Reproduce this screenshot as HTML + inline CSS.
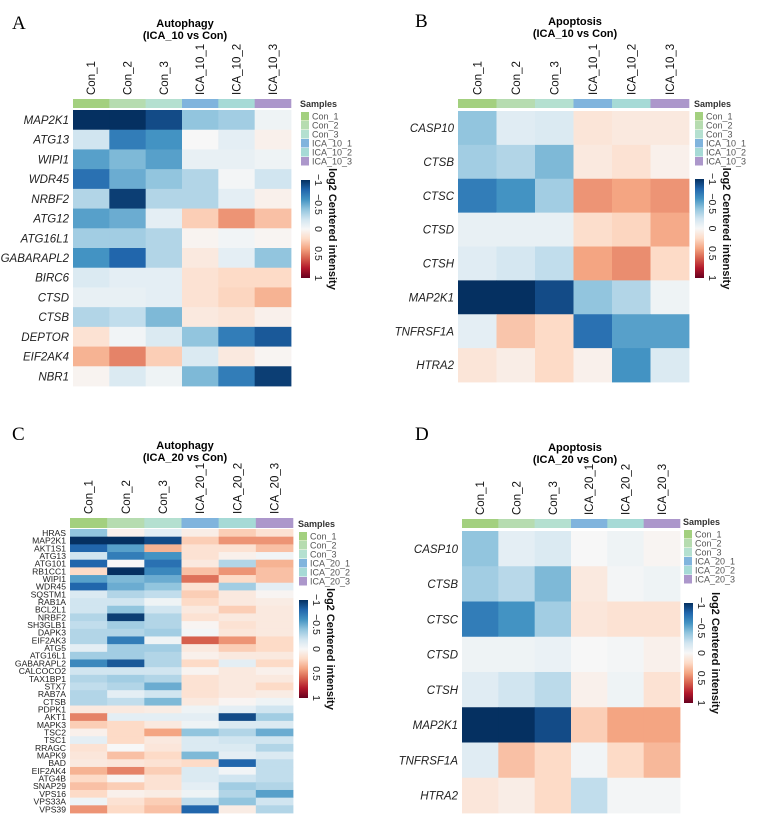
<!DOCTYPE html>
<html><head><meta charset="utf-8"><style>
body{margin:0;background:#fff}
svg{display:block;font-family:"Liberation Sans",sans-serif}
</style></head><body>
<svg id="fig" width="762" height="833" viewBox="0 0 762 833" xmlns="http://www.w3.org/2000/svg">
<defs>
<linearGradient id="cbg" x1="0" y1="0" x2="0" y2="1">
<stop offset="0" stop-color="#053061"/><stop offset="0.1" stop-color="#2166ac"/><stop offset="0.2" stop-color="#4393c3"/><stop offset="0.3" stop-color="#92c5de"/><stop offset="0.4" stop-color="#d1e5f0"/><stop offset="0.5" stop-color="#f7f7f7"/><stop offset="0.6" stop-color="#fddbc7"/><stop offset="0.7" stop-color="#f4a582"/><stop offset="0.8" stop-color="#d6604d"/><stop offset="0.9" stop-color="#b2182b"/><stop offset="1" stop-color="#67001f"/>
</linearGradient>
</defs>
</svg>
<script>
const colsA = ["Con_1","Con_2","Con_3","ICA_10_1","ICA_10_2","ICA_10_3"];
const colsC = ["Con_1","Con_2","Con_3","ICA_20_1","ICA_20_2","ICA_20_3"];
const sampleColors = ["#a3d07f","#b6dcb0","#b4e0d0","#80b4dd","#a6dad6","#ac97cb"];
const colorTicks = [-1,-0.5,0,0.5,1];
const colorTickLabels = ["\u22121","\u22120.5","0","0.5","1"];

const rowsA = ["MAP2K1","ATG13","WIPI1","WDR45","NRBF2","ATG12","ATG16L1","GABARAPL2","BIRC6","CTSD","CTSB","DEPTOR","EIF2AK4","NBR1"];
const valsA = [
[-1,-1,-0.9,-0.4,-0.35,-0.05],[-0.2,-0.7,-0.6,0,-0.1,0.05],[-0.55,-0.45,-0.55,-0.08,-0.08,-0.05],
[-0.75,-0.5,-0.4,-0.3,-0.02,-0.2],[-0.3,-0.95,-0.3,-0.3,-0.1,0.05],[-0.55,-0.5,-0.1,0.25,0.45,0.3],
[-0.35,-0.35,-0.3,0.03,-0.03,0.02],[-0.6,-0.8,-0.3,0.1,-0.1,-0.4],[-0.15,-0.1,-0.1,0.15,0.2,0.2],
[-0.08,-0.08,-0.1,0.15,0.22,0.35],[-0.3,-0.25,-0.45,0.1,0.13,0.05],[0.15,-0.03,-0.15,-0.4,-0.7,-0.85],
[0.35,0.5,0.25,-0.15,0.1,0.02],[0.03,-0.15,-0.05,-0.45,-0.7,-0.95]];

const rowsB = ["CASP10","CTSB","CTSC","CTSD","CTSH","MAP2K1","TNFRSF1A","HTRA2"];
const valsB = [
[-0.4,-0.12,-0.15,0.13,0.1,0.1],[-0.35,-0.3,-0.45,0.1,0.15,0.05],[-0.7,-0.6,-0.35,0.45,0.4,0.45],
[-0.08,-0.08,-0.08,0.18,0.22,0.38],[-0.12,-0.18,-0.25,0.4,0.47,0.2],[-1,-1,-0.9,-0.4,-0.3,-0.05],
[-0.1,0.28,0.2,-0.75,-0.55,-0.55],[0.13,0.07,0.2,0.05,-0.6,-0.15]];

const rowsC = ["HRAS","MAP2K1","AKT1S1","ATG13","ATG101","RB1CC1","WIPI1","WDR45","SQSTM1","RAB1A","BCL2L1","NRBF2","SH3GLB1","DAPK3","EIF2AK3","ATG5","ATG16L1","GABARAPL2","CALCOCO2","TAX1BP1","STX7","RAB7A","CTSB","PDPK1","AKT1","MAPK3","TSC2","TSC1","RRAGC","MAPK9","BAD","EIF2AK4","ATG4B","SNAP29","VPS16","VPS33A","VPS39"];
const valsC = [
[-0.4,0.05,-0.1,0.07,0.25,0.15],[-1,-1,-0.9,0.25,0.45,0.45],[-0.8,-0.55,0.35,0.15,0.15,0.3],
[-0.2,-0.7,-0.6,0.15,0.05,-0.03],[-0.8,0,-0.75,0.1,-0.3,0.35],[0.2,-1,-0.65,0.3,0.45,0.3],
[-0.55,-0.45,-0.5,0.55,0.2,0.3],[-0.8,-0.5,-0.4,0.15,-0.35,-0.1],[-0.15,-0.3,-0.25,0.25,0.1,0.02],
[-0.2,-0.2,-0.05,0.2,0.1,0.08],[-0.2,-0.4,-0.2,0.1,0.25,0.1],[-0.3,-0.95,-0.3,0.15,0.1,0.1],
[-0.25,-0.35,-0.3,0.02,0.15,0.1],[-0.3,-0.3,-0.35,-0.02,0.12,0.1],[-0.3,-0.7,-0.05,0.6,0.45,0.2],
[-0.1,-0.35,-0.35,0.1,0.25,0.2],[-0.35,-0.35,-0.3,0.05,0.1,0.1],[-0.65,-0.85,-0.3,0.2,-0.1,0.2],
[-0.2,-0.2,-0.2,0.03,0.1,0.05],[-0.3,-0.35,-0.3,0.15,0.1,0.1],[-0.25,-0.3,-0.5,0.15,0.1,0.2],
[-0.3,-0.1,-0.2,0.15,0.1,0.08],[-0.3,-0.25,-0.45,0.1,0.02,-0.05],[0.1,0.1,0.08,-0.05,-0.1,-0.2],
[0.5,-0.1,-0.1,-0.1,-0.9,-0.35],[0.25,0.2,0.1,-0.05,-0.15,-0.15],[0.05,0.2,0.4,-0.4,-0.3,-0.5],
[-0.1,0.2,0.1,-0.15,-0.2,-0.2],[0.15,0,0.12,-0.15,-0.15,-0.3],[0.12,0.3,0.2,-0.45,-0.1,-0.15],
[0.1,0.12,0.15,0.2,-0.8,-0.25],[0.35,0.5,0.25,-0.15,-0.03,-0.25],[0.2,0.02,0.15,-0.15,-0.2,-0.25],
[0.3,0.25,0.15,-0.1,-0.35,-0.3],[0.2,0.05,0.08,-0.05,-0.3,-0.55],[-0.05,0.15,0.25,-0.25,-0.4,-0.2],
[0.45,0.2,0.3,-0.8,0.08,-0.3]];

const rowsD = ["CASP10","CTSB","CTSC","CTSD","CTSH","MAP2K1","TNFRSF1A","HTRA2"];
const valsD = [
[-0.4,-0.1,-0.15,0,-0.05,0.02],[-0.35,-0.28,-0.45,0.1,-0.02,-0.05],[-0.7,-0.6,-0.35,0.12,0.15,0.15],
[-0.05,-0.05,-0.07,0,-0.02,0.05],[-0.12,-0.2,-0.27,0.05,-0.05,0.15],[-1,-1,-0.9,0.25,0.4,0.4],
[-0.12,0.3,0.2,-0.03,0.2,0.33],[0.12,0.07,0.2,-0.25,-0.02,-0.02]];

const NS="http://www.w3.org/2000/svg";
const svg=document.getElementById('fig');
const pal=["#053061","#2166ac","#4393c3","#92c5de","#d1e5f0","#f7f7f7","#fddbc7","#f4a582","#d6604d","#b2182b","#67001f"];
function hex(h){return [1,3,5].map(i=>parseInt(h.substr(i,2),16));}
function colorOf(v){
  v=Math.max(-1,Math.min(1,v));
  const t=(v+1)*5; const i=Math.min(9,Math.floor(t)); const f=t-i;
  const a=hex(pal[i]),b=hex(pal[i+1]);
  return "rgb("+a.map((c,k)=>Math.round(c+(b[k]-c)*f)).join(",")+")";
}
function mk(tag,attrs,parent,txt){
  const e=document.createElementNS(NS,tag);
  for(const k in attrs) e.setAttribute(k,attrs[k]);
  if(txt!==undefined) e.textContent=txt;
  (parent||svg).appendChild(e); return e;
}
function panel(p){
  const g=mk('g',{});
  
  
  const lt=mk('text',{x:p.lx,y:p.ly,'font-family':'"Liberation Serif",serif','font-size':19},g,p.letter);
  
  
  const t1=mk('text',{x:p.tx,y:p.ty,'text-anchor':'middle','font-weight':'bold','font-size':11},g,p.title);
  
  
  const t2=mk('text',{x:p.tx,y:p.ty+12,'text-anchor':'middle','font-weight':'bold','font-size':11},g,p.sub);
  
  
  const nc=p.cols.length, nr=p.rows.length;
  const cw=(p.x1-p.x0)/nc, rh=(p.y1-p.y0)/nr;
  const xs=j=>p.x0+j*cw, ys=i=>p.y0+i*rh;
  p.cols.forEach((c,j)=>{
    const cx=xs(j)+cw/2+4;
    const tl=mk('text',{x:cx,y:p.ay0-4,transform:`rotate(-90 ${cx} ${p.ay0-4})`,'font-size':11.5,fill:'#111'},g,c);
    
    
    const a=mk('rect',{x:xs(j),y:p.ay0,width:cw+0.3,height:p.ay1-p.ay0,fill:sampleColors[j]},g);
    
    
  });
  p.rows.forEach((r,i)=>{
    const rl=mk('text',{x:p.x0-4,y:ys(i)+rh/2+p.rfs*0.36,'text-anchor':'end','font-size':p.rfs,'font-style':p.italic?'italic':'normal',fill:'#222'},g,r);
    
    
    p.vals[i].forEach((v,j)=>{
      const c=mk('rect',{x:xs(j),y:ys(i),width:cw+0.4,height:rh+0.4,fill:colorOf(v)},g);
      
      
    });
  });
  const ls=mk('text',{x:p.gx,y:p.gy,'font-weight':'bold','font-size':9,fill:'#333'},g,'Samples');
  
  
  p.cols.forEach((c,j)=>{
    const sy=p.gy+5+j*9;
    const sw=mk('rect',{x:p.gx+1,y:sy,width:8,height:8.5,fill:sampleColors[j]},g);
    
    
    const st=mk('text',{x:p.gx+12,y:sy+7.5,'font-size':9,fill:'#555'},g,c);
    
    
  });
  const cb=mk('rect',{x:p.gx+1,y:p.cy0,width:9,height:p.cy1-p.cy0,fill:'url(#cbg)'},g);
  
  
  colorTicks.forEach((v,k)=>{
    const yy=p.cy0+(v+1)/2*(p.cy1-p.cy0);
    const tx=p.gx+15;
    const tk=mk('text',{x:tx,y:yy,transform:`rotate(90 ${tx} ${yy})`,'text-anchor':'middle','font-size':10.5,fill:'#222'},g,colorTickLabels[k]);
    
    
  });
  const tx=p.gx+29, ty=(p.cy0+p.cy1)/2;
  const ct=mk('text',{x:tx,y:ty,transform:`rotate(90 ${tx} ${ty})`,'text-anchor':'middle','font-weight':'bold','font-size':11,fill:'#111'},g,'log2 Centered intensity');
  
  
}
panel({id:'a',letter:'A',lx:12,ly:29,title:'Autophagy',sub:'(ICA_10 vs Con)',tx:185,ty:27,cols:colsA,rows:rowsA,vals:valsA,x0:73,x1:291,y0:110,y1:386,ay0:99,ay1:108,rfs:11.5,italic:true,gx:300,gy:107,cy0:180,cy1:278});
panel({id:'b',letter:'B',lx:415,ly:27,title:'Apoptosis',sub:'(ICA_10 vs Con)',tx:575,ty:25,cols:colsA,rows:rowsB,vals:valsB,x0:458,x1:689,y0:111,y1:382,ay0:99,ay1:108,rfs:11.5,italic:true,gx:694,gy:107,cy0:179,cy1:278});
panel({id:'c',letter:'C',lx:12,ly:440,title:'Autophagy',sub:'(ICA_20 vs Con)',tx:185,ty:449,cols:colsC,rows:rowsC,vals:valsC,x0:70,x1:293,y0:529,y1:813,ay0:518,ay1:528,rfs:8.6,italic:false,gx:298,gy:527,cy0:600,cy1:698});
panel({id:'d',letter:'D',lx:415,ly:440,title:'Apoptosis',sub:'(ICA_20 vs Con)',tx:575,ty:451,cols:colsC,rows:rowsD,vals:valsD,x0:462,x1:680,y0:531,y1:813,ay0:519,ay1:528,rfs:11.5,italic:true,gx:683,gy:525,cy0:603,cy1:703});
</script>
</body></html>
